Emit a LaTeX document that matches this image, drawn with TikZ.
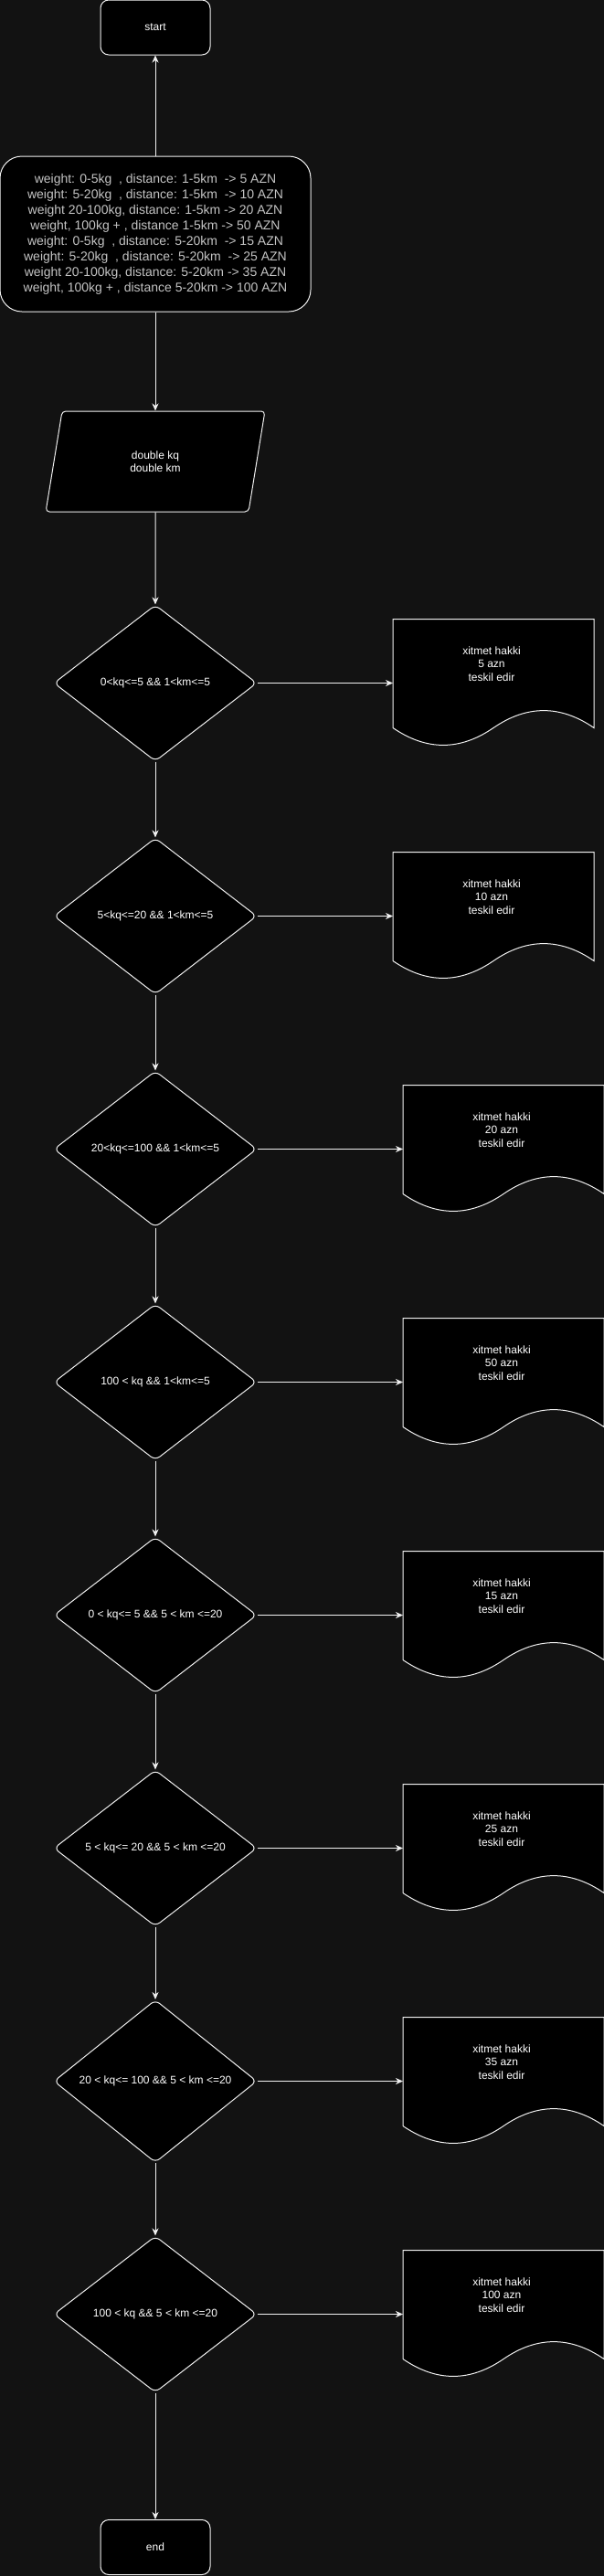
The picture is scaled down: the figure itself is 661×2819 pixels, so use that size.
\documentclass[tikz,border=0pt]{standalone}
\usepackage{fontspec}
\setmainfont{Liberation Sans}
\usepackage{tikz}
\usetikzlibrary{positioning, calc, arrows.meta, shapes.geometric}

\definecolor{bgdark}{HTML}{121212}
\definecolor{edgewhite}{HTML}{F0F0F0}
\definecolor{infotext}{HTML}{C4C4C4}

\begin{document}
\begin{tikzpicture}[x=1pt, y=-1pt,
	base/.style={draw=edgewhite, fill=black, line width=1pt, text=white, align=center, font=\fontsize{12}{14.5}\selectfont},
	term/.style={base, rounded corners=9pt, minimum width=120pt, minimum height=60pt},
	info/.style={base, rounded corners=24pt, minimum width=340pt, minimum height=170pt, text=infotext, font=\fontsize{14}{17}\selectfont},
	io/.style={base, trapezium, trapezium left angle=79.7, trapezium right angle=100.3, trapezium stretches=true, rounded corners=4pt, minimum width=240pt, minimum height=110pt},
	cond/.style={base, diamond, rounded corners=6pt, minimum width=222pt, minimum height=171pt, inner sep=0pt},
	docbox/.style={rectangle, minimum width=220pt, minimum height=140pt, inner sep=0pt, outer sep=0pt},
	docline/.style={draw=edgewhite, fill=black, line width=1pt},
	doctext/.style={text=white, align=center, font=\fontsize{12}{14.5}\selectfont},
	arr/.style={draw=edgewhite, line width=1pt, -{Stealth[length=8pt, width=7pt, inset=2.5pt]}}]
\useasboundingbox (0,0) rectangle (661,2819);
\fill[bgdark] (0,0) rectangle (661,2819);
\node[term] (start) at (170,30) {start};
\node[info] (rules) at (170,256) {weight: 0-5kg\ \ , distance: 1-5km\ \ -> 5 AZN\\
	weight: 5-20kg\ \ , distance: 1-5km\ \ -> 10 AZN\\
	weight 20-100kg, distance: 1-5km -> 20 AZN\\
	weight, 100kg + , distance 1-5km -> 50 AZN\\
	weight: 0-5kg\ \ , distance: 5-20km\ \ -> 15 AZN\\
	weight: 5-20kg\ \ , distance: 5-20km\ \ -> 25 AZN\\
	weight 20-100kg, distance: 5-20km -> 35 AZN\\
	weight, 100kg + , distance 5-20km -> 100 AZN};
\node[io] (input) at (170,505) {double kq\\double km};
\foreach \i/\dx/\cnd/\fee in {1/540/{0<kq<=5 \&\& 1<km<=5}/5,
	2/540/{5<kq<=20 \&\& 1<km<=5}/10,
	3/551/{20<kq<=100 \&\& 1<km<=5}/20,
	4/551/{100 < kq \&\& 1<km<=5}/50,
	5/551/{0 < kq<= 5 \&\& 5 < km <=20}/15,
	6/551/{5 < kq<= 20 \&\& 5 < km <=20}/25,
	7/551/{20 < kq<= 100 \&\& 5 < km <=20}/35,
	8/551/{100 < kq \&\& 5 < km <=20}/100} {
	\node[cond] (c\i) at (170, {747.5+255*(\i-1)}) {\cnd};
	\node[docbox] (d\i) at (\dx, {747.5+255*(\i-1)}) {};
	\begin{scope}[shift={(d\i.north west)}]
		\draw[docline] (0,0) -- (220,0) -- (220,119) .. controls (183.3,93.8) and (146.7,93.8) .. (110,119)
			.. controls (73.3,144.2) and (36.7,144.2) .. (0,119) -- cycle;
	\end{scope}
	\node[doctext] (t\i) at ($(d\i.north)+(-2,49)$) {xitmet hakki\\\fee{} azn\\teskil edir};
	\draw[arr] (c\i) -- (d\i);
}
\node[term] (end) at (170,2787.5) {end};
\draw[arr] (rules) -- (start);
\draw[arr] (rules) -- (input);
\draw[arr] (input) -- (c1);
\foreach \a/\b in {1/2, 2/3, 3/4, 4/5, 5/6, 6/7, 7/8}
	\draw[arr] (c\a) -- (c\b);
\draw[arr] (c8) -- (end);
\end{tikzpicture}
\end{document}
